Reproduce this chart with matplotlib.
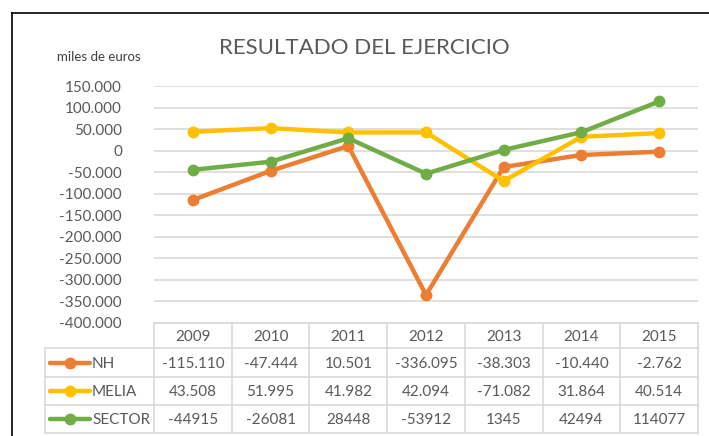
import matplotlib
matplotlib.use("Agg")
import matplotlib.pyplot as plt
from matplotlib.lines import Line2D

years = ["2009", "2010", "2011", "2012", "2013", "2014", "2015"]
nh = [-115110, -47444, 10501, -336095, -38303, -10440, -2762]
melia = [43508, 51995, 41982, 42094, -71082, 31864, 40514]
sector = [-44915, -26081, 28448, -53912, 1345, 42494, 114077]
series_names = ["NH", "MELIA", "SECTOR"]
series_colors = ["#ED7D31", "#FFC000", "#70AD47"]
yticks = list(range(-400000, 150001, 50000))

plt.rcParams['font.family'] = ['Lato', 'DejaVu Sans']
TXT = "#595959"
GRID = "#D9D9D9"

W, H = 709, 436
fig = plt.figure(figsize=(W / 100, H / 100), dpi=100)

def fx(px):
    return px / W

def fy(py):
    return 1 - py / H

# main plot area
x0, x1 = 154, 698
ytop, ybot = 86, 322.5
ax = fig.add_axes([fx(x0), fy(ybot), fx(x1 - x0), (ybot - ytop) / H])
ax.set_xlim(-0.5, len(years) - 0.5)
ax.set_ylim(-400000, 150000)
for s in ax.spines.values():
    s.set_visible(False)
ax.set_yticks(yticks)
ax.set_yticklabels(["0" if v == 0 else f"{v:,.0f}".replace(",", ".") for v in yticks])
ax.tick_params(axis='y', length=0, pad=23, labelsize=11, labelcolor=TXT)
ax.set_xticks([])
ax.grid(axis='y', color=GRID, lw=1.2)
ax.set_axisbelow(True)
xs = list(range(len(years)))
for vals, c in zip([nh, melia, sector], series_colors):
    ax.plot(xs, vals, color=c, lw=3.2, marker='o', ms=7.5, solid_capstyle='round', zorder=3)

# table
tl, tr = 45, 698
tt, tb = 323, 433
tax = fig.add_axes([fx(tl), fy(tb), fx(tr - tl), (tb - tt) / H])
colw = (x1 - x0) / len(years)
lab_w = (x0 - tl) / colw
tax.set_xlim(-0.5 - lab_w, len(years) - 0.5)
row_edges = [0, 25, 54, 82, 110]
tax.set_ylim(110, 0)
tax.axis('off')
lkw = dict(color=GRID, lw=1.2, clip_on=False)
tax.plot([-0.5, len(years) - 0.5], [row_edges[0]] * 2, **lkw)
for e in row_edges[1:]:
    tax.plot([-0.5 - lab_w, len(years) - 0.5], [e, e], **lkw)
for i in range(len(years) + 1):
    tax.plot([i - 0.5, i - 0.5], [row_edges[0], row_edges[-1]], **lkw)
tax.plot([-0.5 - lab_w] * 2, [row_edges[1], row_edges[-1]], **lkw)
for i, yr in enumerate(years):
    tax.text(i, (row_edges[0] + row_edges[1]) / 2 + 1, yr, ha='center', va='center', fontsize=11, color=TXT)

def fmt_dot(v):
    return f"{v:,.0f}".replace(",", ".")

rows = [(nh, fmt_dot), (melia, fmt_dot), (sector, lambda v: f"{v}")]
for r, ((vals, f), name, c) in enumerate(zip(rows, series_names, series_colors)):
    yc = (row_edges[r + 1] + row_edges[r + 2]) / 2 + 1
    for i, v in enumerate(vals):
        tax.text(i, yc, f(v), ha='center', va='center', fontsize=11, color=TXT)
    lx0 = -0.5 - lab_w + 5 / colw
    lx1 = lx0 + 40 / colw
    tax.plot([lx0, lx1], [yc - 1, yc - 1], color=c, lw=3.2, clip_on=False, solid_capstyle='round')
    tax.plot([(lx0 + lx1) / 2], [yc - 1], marker='o', ms=7.5, color=c, clip_on=False)
    tax.text(lx1 + 2 / colw, yc, name, ha='left', va='center', fontsize=11, color=TXT)

# title and unit label
fig.text(fx(364), fy(48), "RESULTADO DEL EJERCICIO", ha='center', va='center',
         fontsize=16, color=TXT)
fig.text(fx(57), fy(57), "miles de euros", ha='left', va='center', fontsize=9.5, color="#404040")

# frame lines (left and top border)
fig.add_artist(Line2D([fx(12), fx(12)], [fy(13), 0], color='black', lw=1.2))
fig.add_artist(Line2D([fx(12), 1], [fy(13), fy(13)], color='black', lw=1.2))

fig.savefig("out.png", dpi=100)
